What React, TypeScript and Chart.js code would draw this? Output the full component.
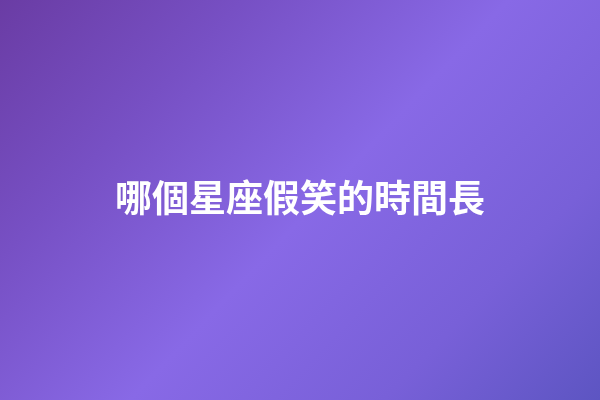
import { useEffect, useRef } from 'react';
import Chart from 'chart.js/auto';
import type { Plugin } from 'chart.js';

// the picture holds only a title over a gradient, no series
const TITLE_TEXT = '哪個星座假笑的時間長';
const CATEGORIES: string[] = [];
const SERIES_VALUES: number[] = [];

// gradient stops, top-left to bottom-right
const GRADIENT_STOPS: [number, string][] = [
  [0, '#6a3ca4'],
  [0.25, '#7750c4'],
  [0.52, '#8869e6'],
  [0.78, '#7860d8'],
  [1, '#5d55c2'],
];

const backgroundPlugin: Plugin = {
  id: 'gradientBackground',
  beforeDraw(chart) {
    const { ctx, width, height } = chart;
    const grad = ctx.createLinearGradient(0, 0, width * 0.86, height * 1.22);
    GRADIENT_STOPS.forEach(([at, color]) => grad.addColorStop(at, color));
    ctx.save();
    ctx.fillStyle = grad;
    ctx.fillRect(0, 0, width, height);
    ctx.restore();
  },
};

export default function App() {
  const canvasRef = useRef<HTMLCanvasElement>(null);

  useEffect(() => {
    if (!canvasRef.current) return;

    const chart = new Chart(canvasRef.current, {
      type: 'bar',
      data: {
        labels: CATEGORIES,
        datasets: [{ data: SERIES_VALUES }],
      },
      options: {
        animation: false,
        responsive: false,
        layout: { padding: 0 },
        scales: {
          x: { display: false },
          y: { display: false },
        },
        plugins: {
          legend: { display: false },
          tooltip: { enabled: false },
          title: {
            display: true,
            text: TITLE_TEXT,
            color: '#ffffff',
            font: { family: '"Noto Sans CJK TC", "Noto Sans CJK SC", sans-serif', size: 37, weight: 'bold', lineHeight: 1.2 },
            padding: { top: 176, bottom: 0 },
          },
        },
      },
      plugins: [backgroundPlugin],
    });

    return () => chart.destroy();
  }, []);

  return (
    <div style={{ position: 'absolute', left: 0, top: 0, width: 600, height: 400 }}>
      <canvas ref={canvasRef} width={600} height={400} style={{ display: 'block' }} />
    </div>
  );
}
